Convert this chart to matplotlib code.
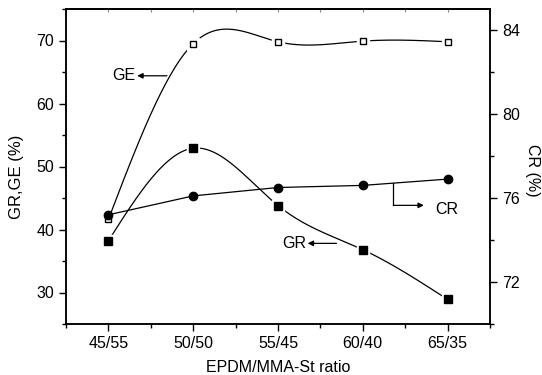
import numpy as np
import matplotlib
matplotlib.use("Agg")
import matplotlib.pyplot as plt
from matplotlib.ticker import MultipleLocator

plt.rcParams['font.family'] = ['Liberation Sans', 'DejaVu Sans']

ratios = ["45/55", "50/50", "55/45", "60/40", "65/35"]
ge = [41.6, 69.5, 69.8, 69.9, 69.8]   # grafting efficiency (%)
gr = [38.2, 52.9, 43.8, 36.8, 28.9]   # grafting ratio (%)
cr = [75.2, 76.1, 76.5, 76.6, 76.9]   # conversion ratio (%)


def natural_spline(x, y, n=300):
    x = np.asarray(x, float)
    y = np.asarray(y, float)
    k = len(x)
    h = np.diff(x)
    A = np.zeros((k, k))
    b = np.zeros(k)
    A[0, 0] = A[-1, -1] = 1.0
    for i in range(1, k - 1):
        A[i, i - 1] = h[i - 1]
        A[i, i] = 2 * (h[i - 1] + h[i])
        A[i, i + 1] = h[i]
        b[i] = 3 * ((y[i + 1] - y[i]) / h[i] - (y[i] - y[i - 1]) / h[i - 1])
    c = np.linalg.solve(A, b)
    xs = np.linspace(x[0], x[-1], n)
    ys = np.empty_like(xs)
    for j, xv in enumerate(xs):
        i = min(np.searchsorted(x, xv, side='right') - 1, k - 2)
        dx = xv - x[i]
        bi = (y[i + 1] - y[i]) / h[i] - h[i] * (2 * c[i] + c[i + 1]) / 3
        di = (c[i + 1] - c[i]) / (3 * h[i])
        ys[j] = y[i] + bi * dx + c[i] * dx ** 2 + di * dx ** 3
    return xs, ys


xpos = np.arange(1, len(ratios) + 1)

fig = plt.figure(figsize=(5.42, 3.75), dpi=100)
ax = fig.add_axes([66 / 542, 1 - 324 / 375, (490 - 66) / 542, (324 - 9) / 375])
ax2 = ax.twinx()

lw = 0.9
ms = 5.5

xs, ys = natural_spline(xpos, ge)
ax.plot(xs, ys, color='black', lw=lw, zorder=2)
xs, ys = natural_spline(xpos, gr)
ax.plot(xs, ys, color='black', lw=lw, zorder=2)

# white halos leave a small gap between curves and markers
ax.plot(xpos, ge, 's', ms=ms + 3, color='white', zorder=3)
ax.plot(xpos, gr, 's', ms=ms + 3, color='white', zorder=3)
ax.plot(xpos, ge, 's', ms=ms - 0.5, mfc='white', mec='black', mew=1.0, zorder=4)
ax.plot(xpos, gr, 's', ms=ms, color='black', zorder=4)

ax2.plot(xpos, cr, color='black', lw=lw, zorder=2)
ax2.plot(xpos, cr, 'o', ms=ms + 0.5, color='black', zorder=4)

ax.set_xlim(0.5, 5.5)
ax.set_ylim(25, 75)
ax2.set_ylim(70, 85)

ax.set_xticks(xpos)
ax.set_xticklabels(ratios)
ax.xaxis.set_minor_locator(MultipleLocator(0.5))
ax.yaxis.set_major_locator(MultipleLocator(10))
ax.yaxis.set_minor_locator(MultipleLocator(5))
ax2.yaxis.set_major_locator(MultipleLocator(4))
ax2.yaxis.set_minor_locator(MultipleLocator(2))

fs = 11.5
ax.tick_params(axis='both', which='major', direction='out', length=5, width=1.0, labelsize=fs)
ax.tick_params(axis='both', which='minor', direction='out', length=3, width=1.0)
ax2.tick_params(axis='y', which='major', direction='out', length=5, width=1.0, labelsize=fs)
ax2.tick_params(axis='y', which='minor', direction='out', length=3, width=1.0)

# small inward ticks along the top frame
top = ax.secondary_xaxis('top')
top.set_xticks(xpos)
top.xaxis.set_minor_locator(MultipleLocator(0.5))
top.tick_params(which='both', direction='in', length=2.5, width=0.8,
                color='#888888', labeltop=False)
top.spines['top'].set_linewidth(1.1)

for a in (ax, ax2):
    for s in a.spines.values():
        s.set_linewidth(1.1)

ax.set_xlabel("EPDM/MMA-St ratio", fontsize=fs, va='center')
ax.xaxis.set_label_coords(0.5, -0.137)
ax.set_ylabel("GR,GE (%)", fontsize=12, va='center')
ax.yaxis.set_label_coords(-0.116, 0.467)
ax2.set_ylabel("CR (%)", fontsize=fs, rotation=270, va='center')
ax2.yaxis.set_label_coords(1.101, 0.489)

arrow = dict(arrowstyle='-|>', color='black', lw=0.9, mutation_scale=8, shrinkA=0, shrinkB=0)
ax.annotate("", xy=(1.34, 64.4), xytext=(1.69, 64.4), arrowprops=arrow)
ax.text(1.32, 64.4, "GE", ha='right', va='center', fontsize=fs)
ax.annotate("", xy=(3.35, 37.8), xytext=(3.69, 37.8), arrowprops=arrow)
ax.text(3.33, 37.8, "GR", ha='right', va='center', fontsize=fs)

ax2.plot([4.36, 4.36], [76.7, 75.65], color='black', lw=0.9)
ax2.annotate("", xy=(4.72, 75.65), xytext=(4.36, 75.65), arrowprops=arrow)
ax2.text(4.86, 75.45, "CR", ha='left', va='center', fontsize=fs)

fig.savefig("out.png", dpi=100)
